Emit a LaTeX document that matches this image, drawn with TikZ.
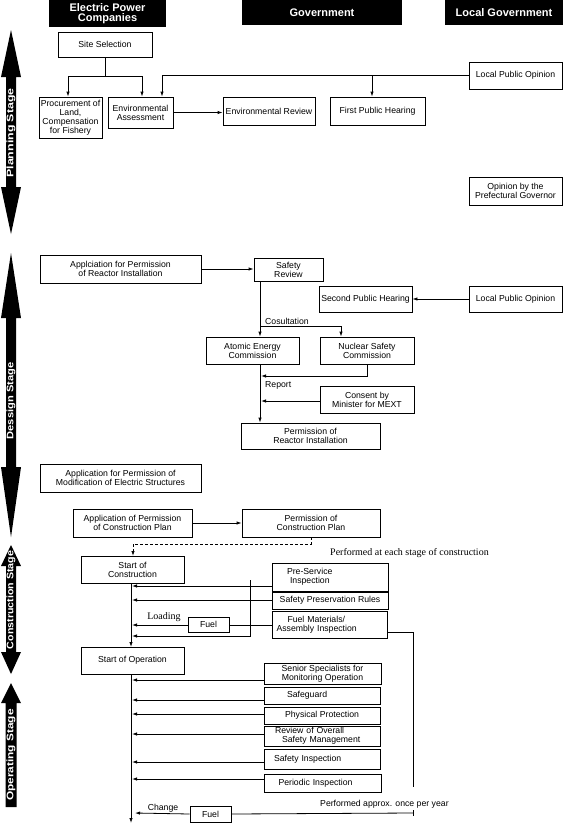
\documentclass[tikz,border=0pt]{standalone}
\usepackage{fontspec}
\setmainfont{Liberation Sans}
\newfontfamily\tnr{Liberation Serif}
\usetikzlibrary{arrows.meta}
\newcommand\mybox[7][box]{%
  \node[#1,minimum width={(#5-#3)*1pt},minimum height={(#6-#4)*1pt}] (#2) at ({(#3+#5)/2},{(#4+#6)/2}) {#7};}
\newcommand\stg[2]{\scalebox{#1}[1]{#2}}
\begin{document}
\begin{tikzpicture}[x=1pt,y=-1pt,
  box/.style={draw,line width=0.8pt,inner sep=0pt,font=\fontsize{8.7}{8.9}\selectfont,align=center},
  lbox/.style={box,align=left,text width=#1},
  hdr/.style={fill=black,inner sep=0pt,text=white,font=\fontsize{11}{10.5}\selectfont\bfseries,align=center},
  con/.style={line width=0.8pt},
  arr/.style={con,-{Latex[length=5pt,width=3.4pt]}},
  lbl/.style={font=\fontsize{8.7}{9}\selectfont,inner sep=0pt},
  slbl/.style={font=\tnr\fontsize{10}{11}\selectfont,inner sep=0pt},
  stxt/.style={text=white,font=\fontsize{9.5}{10}\selectfont\bfseries,rotate=90,inner sep=0pt}
]
\useasboundingbox (0,0) rectangle (570,827);

% headers
\mybox[hdr]{hEPC}{49}{0}{166}{27}{Electric Power\\Companies}
\mybox[hdr]{hGOV}{242}{0}{402}{25}{Government}
\mybox[hdr]{hLG}{445}{0}{563}{25}{Local Government}

% stage arrows
\fill (11,30) -- (21,77) -- (16,77) -- (16,187) -- (21,187) -- (11,234) -- (1,187) -- (6,187) -- (6,77) -- (1,77) -- cycle;
\node[stxt] (tPlan) at (11,133) {\stg{1.3}{Planning Stage}};
\fill (11,253) -- (21,318) -- (16,318) -- (16,467) -- (21,467) -- (11,537) -- (1,467) -- (6,467) -- (6,318) -- (1,318) -- cycle;
\node[stxt] (tDes) at (11,401) {\stg{1.17}{Dessign Stage}};
\fill (11,545) -- (21,566) -- (16,566) -- (16,652) -- (21,652) -- (11,674) -- (1,652) -- (6,652) -- (6,566) -- (1,566) -- cycle;
\node[stxt] (tCon) at (11,600) {\stg{1.12}{Construction Stage}};
\fill (11,683) -- (21,703) -- (16.5,703) -- (16.5,807) -- (5.5,807) -- (5.5,703) -- (1,703) -- cycle;
\node[stxt] (tOp) at (11,755) {\stg{1.25}{Operating Stage}};

% planning stage
\mybox{site}{58}{32}{152}{57}{Site Selection}
\mybox{proc}{39}{97}{102}{138}{Procurement of\\Land,\\Compensation\\for Fishery}
\mybox{ea}{108}{97}{173}{128}{Environmental\\Assessment}
\mybox{er}{223}{97}{315}{125}{Environmental Review}
\mybox{fph}{330}{97}{425}{125}{First Public Hearing}
\mybox{lpo1}{469}{62}{562}{89}{Local Public Opinion}
\mybox{gov}{469}{177}{562}{205}{Opinion by the\\Prefectural Governor}

\draw[con] (site.south -| 105,0) -- (105,76);
\draw[arr] (142,76) -- (68,76) -- (proc.north -| 68,0);
\draw[arr] (105,76) -- (142,76) -- (ea.north -| 142,0);
\draw[arr] (lpo1.west) -- (162,75.5) -- (ea.north -| 162,0);
\draw[arr] (372,75.5) -- (fph.north -| 372,0);
\draw[arr] (ea.east) -- (er.west |- ea.east);

% design stage
\mybox{app1}{40}{255}{201}{283}{Applciation for Permission\\of Reactor Installation}
\mybox{sr}{254}{258}{323}{281}{Safety\\Review}
\mybox{sph}{319}{286}{412}{312}{Second Public Hearing}
\mybox{lpo2}{469}{286}{562}{312}{Local Public Opinion}
\mybox{aec}{206}{337}{299}{364}{Atomic Energy\\Commission}
\mybox{nsc}{320}{337}{414}{364}{Nuclear Safety\\Commission}
\mybox{cons}{320}{386}{414}{413}{Consent by\\Minister for MEXT}
\mybox{pri}{241}{423}{380}{449}{Permission of\\Reactor Installation}

\draw[arr] (app1.east) -- (sr.west |- app1.east);
\draw[arr] (lpo2.west) -- (sph.east);
\draw[arr] (sr.south -| 260,0) -- (aec.north -| 260,0);
\draw[arr] (260,326) -- (341,326) -- (nsc.north -| 341,0);
\node[lbl,anchor=south west] (lcos) at (265,325) {Cosultation};
\draw[arr] (nsc.south -| 367,0) -- (367,376) -- (261,376);
\draw[arr] (aec.south -| 260,0) -- (pri.north -| 260,0);
\node[lbl,anchor=west] (lrep) at (265,385) {Report};
\draw[arr] (cons.west |- 0,401) -- (261,401);

\mybox{app2}{40}{464}{201}{492}{Application for Permission of\\Modification of Electric Structures}
\mybox{acp}{73}{509}{192}{537}{Application of Permission\\of Construction Plan}
\mybox{pcp}{242}{509}{380}{537}{Permission of\\Construction Plan}
\draw[arr] (acp.east) -- (pcp.west);
\draw[arr,dash pattern=on 3pt off 2pt] (pcp.south -| 311,0) -- (311,544) -- (133,544) -- (133,556);

\node[slbl,anchor=west] (lpe) at (330,553) {Performed at each stage of construction};

% construction stage
\mybox{soc}{81}{556}{184}{583}{Start of\\Construction}
\mybox[lbox=86pt]{psi}{272}{563}{388}{591}{Pre-Service\\\hspace*{3pt}Inspection}
\mybox{spr}{272}{592}{388}{609}{Safety Preservation Rules}
\mybox[lbox=106pt]{fmai}{272}{611}{387}{638}{\hspace*{11pt}Fuel Materials/\\Assembly Inspection}
\mybox{fuel1}{188}{617}{229}{632}{Fuel}
\node[slbl] (lload) at (164,617) {Loading};

\draw[arr] (soc.south -| 131,0) -- (131,647);
\draw[arr] (psi.west |- 0,586) -- (132,586);
\draw[arr] (spr.west |- 0,600) -- (132,600);
\draw[con] (fmai.west |- 0,625) -- (fuel1.east |- 0,625);
\draw[arr] (fuel1.west |- 0,625) -- (132,625);
\draw[arr] (250,580) -- (250,636) -- (132,636);
\draw[con] (fmai.east |- 0,632) -- (413,632) -- (413,787);

% operating stage
\mybox{soo}{81}{647}{184}{674}{Start of Operation}
\mybox{ss}{264}{663}{381}{684}{Senior Specialists for\\Monitoring Operation}
\mybox[lbox=70pt]{sg}{264}{687}{380}{704}{Safeguard}
\mybox{pp}{264}{707}{380}{724}{Physical Protection}
\mybox[lbox=94pt]{ros}{264}{726}{380}{746}{Review of Overall\\\hspace*{7pt}Safety Management}
\mybox[lbox=96pt]{si}{264}{749}{380}{769}{Safety Inspection}
\mybox[lbox=88pt]{pi}{264}{774}{381}{792}{Periodic Inspection}

\draw[arr] (ss.west |- 0,680) -- (132,680);
\draw[arr] (sg.west |- 0,700) -- (132,700);
\draw[arr] (pp.west |- 0,714) -- (132,714);
\draw[arr] (ros.west |- 0,734) -- (132,734);
\draw[arr] (si.west |- 0,762) -- (132,762);
\draw[arr] (pi.west |- 0,779) -- (132,779);
\draw[arr] (soo.south -| 131,0) -- (131,823);

\mybox{fuel2}{190}{806}{231}{822}{Fuel}
\node[lbl] (lchg) at (163,808) {Change};
\draw[con] (413,810) -- (413,816);
\draw[con] (413,813) -- (fuel2.east);
\draw[arr] (fuel2.west) -- (135,813);
\node[lbl,anchor=west] (lonce) at (320,804) {Performed approx. once per year};

\end{tikzpicture}
\end{document}
